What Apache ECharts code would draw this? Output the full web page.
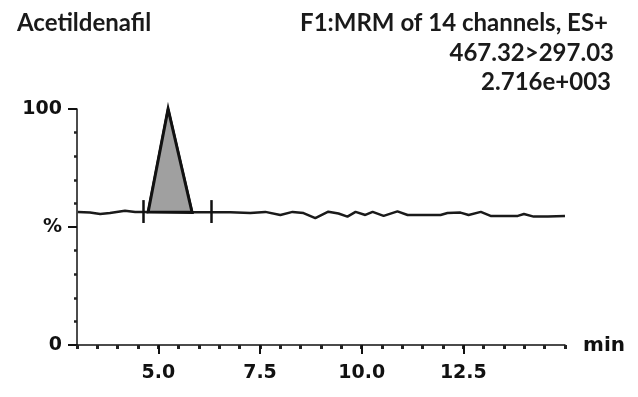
<!DOCTYPE html>
<html lang="en">
<head>
    <meta charset="UTF-8">
    <title>Acetildenafil MRM</title>
    <script src="https://cdn.jsdelivr.net/npm/echarts@6/dist/echarts.min.js"></script>
</head>
<body style="height: 100%; margin: 0; background: #fff">
<div id="chart" style="height: 397px; width: 638px"></div>
<script>
    // trace (time in min, intensity in %)
    let traceTimes = [3.02, 3.32, 3.57, 3.81, 4.18, 4.43, 4.63, 4.75, 5.24, 5.83, 6.30, 6.77, 7.26, 7.63, 8.00,
        8.30, 8.57, 8.86, 9.18, 9.43, 9.65, 9.85, 10.09, 10.27, 10.54, 10.88, 11.13, 11.57, 11.94, 12.11,
        12.43, 12.63, 12.93, 13.17, 13.54, 13.84, 13.99, 14.23, 14.58, 15.0];
    let traceValues = [56.4, 56.1, 55.5, 55.9, 56.9, 56.4, 56.4, 56.4, 100, 56.2, 56.2, 56.2, 55.9, 56.4, 55.1,
        56.4, 55.9, 53.8, 56.5, 55.7, 54.4, 56.4, 55.1, 56.4, 54.7, 56.6, 55.1, 55.1, 55.1, 55.9,
        56.1, 55.1, 56.4, 54.7, 54.7, 54.7, 55.5, 54.4, 54.4, 54.7];

    // integrated peak (vertices)
    let peakTimes = [4.75, 5.24, 5.83];
    let peakValues = [56.4, 100, 56.2];

    // integration markers
    let markerTimes = [4.63, 6.30];
    let markerLow = 51.7, markerHigh = 61.4;

    let xMajor = [5.0, 7.5, 10.0, 12.5];
    let yLabels = {0: '0', 50: '%', 100: '100'};

    let labelFont = {fontFamily: 'DejaVu Sans', fontWeight: 'bold', fontSize: 19, color: '#111'};
    let headFont = {fontFamily: 'Lato', fontWeight: 'bold', fontSize: 24, color: '#1a1a1a'};

    function pairs(xs, ys) {
        let out = [];
        for (let i = 0; i < xs.length; i++) out.push([xs[i], ys[i]]);
        return out;
    }

    let markerLines = [];
    markerTimes.forEach(function (t) {
        markerLines.push([{coord: [t, markerLow]}, {coord: [t, markerHigh]}]);
    });

    let peakData = pairs(peakTimes, peakValues);

    let myChart = echarts.init(document.getElementById('chart'));
    let option = {
        animation: false,
        title: [
            {text: 'Acetildenafil', left: 12, top: 6, textStyle: headFont},
            {text: 'F1:MRM of 14 channels, ES+', right: 25, top: 6, textStyle: headFont},
            {text: '467.32>297.03', right: 19, top: 36, textStyle: headFont},
            {text: '2.716e+003', right: 22, top: 65, textStyle: headFont}
        ],
        grid: {left: 77, right: 73, top: 109, bottom: 52},
        xAxis: [
            {
                type: 'value', min: 3, max: 15, interval: 0.5, position: 'bottom',
                axisLine: {lineStyle: {color: '#111', width: 1.5}},
                axisTick: {length: 4, lineStyle: {color: '#222', width: 3}},
                axisLabel: {show: false},
                splitLine: {show: false}
            },
            {
                type: 'value', min: 3, max: 15, position: 'bottom',
                axisLine: {show: false},
                axisTick: {show: true, customValues: xMajor, length: 9, lineStyle: {color: '#111', width: 2}},
                axisLabel: Object.assign({
                    customValues: xMajor, margin: 19,
                    formatter: function (v) { return v.toFixed(1); }
                }, labelFont),
                splitLine: {show: false}
            }
        ],
        yAxis: {
            type: 'value', min: 0, max: 100, interval: 50,
            axisLine: {show: true, lineStyle: {color: '#111', width: 1.5}},
            axisTick: {show: true, length: 9, lineStyle: {color: '#111', width: 2}},
            minorTick: {show: true, splitNumber: 5, length: 3, lineStyle: {color: '#222', width: 2.5}},
            axisLabel: Object.assign({
                margin: 15,
                formatter: function (v) { return yLabels[v]; }
            }, labelFont),
            splitLine: {show: false}
        },
        graphic: [
            {type: 'text', right: 13, top: 336, style: {text: 'min',
                font: 'bold 20px "DejaVu Sans"', fill: '#111'}}
        ],
        series: [
            {
                type: 'line', data: pairs(traceTimes, traceValues), showSymbol: false,
                lineStyle: {color: '#1a1a1a', width: 2.5}, z: 3,
                markLine: {
                    silent: true, symbol: 'none', label: {show: false},
                    lineStyle: {color: '#111', width: 2.5, type: 'solid'},
                    data: markerLines
                }
            },
            {
                type: 'custom', data: peakData, z: 4,
                renderItem: function (params, api) {
                    if (params.dataIndex !== 0) return null;
                    let pts = peakData.map(function (p) { return api.coord(p); });
                    return {
                        type: 'polygon',
                        shape: {points: pts},
                        style: {fill: '#a0a0a0', stroke: '#111', lineWidth: 3, lineJoin: 'miter'}
                    };
                }
            }
        ]
    };
    myChart.setOption(option, true);
</script>
</body>
</html>
